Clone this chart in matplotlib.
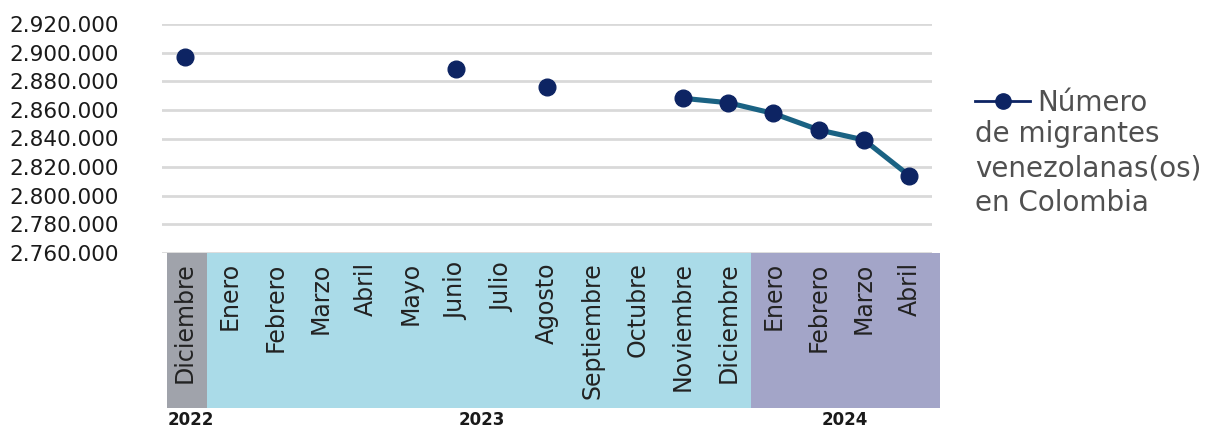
import numpy as np
import matplotlib
matplotlib.use("Agg")
import matplotlib.pyplot as plt
from matplotlib.lines import Line2D
from matplotlib.ticker import FuncFormatter

plt.rcParams['font.family'] = ['DejaVu Sans']

meses = ["Diciembre", "Enero", "Febrero", "Marzo", "Abril", "Mayo", "Junio", "Julio",
         "Agosto", "Septiembre", "Octubre", "Noviembre", "Diciembre",
         "Enero", "Febrero", "Marzo", "Abril"]
anios = ["2022", "2023", "2024"]
# meses por año en el eje
n_por_anio = [1, 12, 4]
# sin dato -> nan
migrantes = [2897000, np.nan, np.nan, np.nan, np.nan, np.nan, 2888800, np.nan,
             2875700, np.nan, np.nan, 2868100, 2865000,
             2857500, 2846000, 2839000, 2814000]
serie = ["Número", "de migrantes\nvenezolanas(os)\nen Colombia"]

W, H = 1211, 429
fig = plt.figure(figsize=(W / 100, H / 100), dpi=100)

x = np.arange(len(meses))
ax = fig.add_axes([162 / W, 1 - 253 / H, (932 - 162) / W, (253 - 24) / H])
ax.plot(x, migrantes, color="#1a6283", lw=3.7, marker="o", ms=12,
        mfc="#0d2463", mec="#0d2463", zorder=3)
ax.set_xlim(-0.5, len(meses) - 0.5)
ax.set_ylim(2760000, 2920000)
ax.set_yticks(np.arange(2760000, 2920001, 20000))
ax.yaxis.set_major_formatter(FuncFormatter(lambda v, p: f"{int(v):,}".replace(",", ".")))
ax.tick_params(axis="y", length=0, pad=31, labelsize=15.5, labelcolor="#1a1a1a")
ax.set_xticks([])
ax.grid(axis="y", color="#d9d9d9", lw=2)
ax.set_axisbelow(True)
for s in ax.spines.values():
    s.set_visible(False)

# leyenda dibujada a mano
fig.add_artist(Line2D([975 / W, 1030 / W], [1 - 101 / H] * 2, color="#0d2463", lw=2,
                      transform=fig.transFigure))
fig.add_artist(Line2D([1003 / W], [1 - 101 / H], color="#0d2463", marker="o", ms=11,
                      transform=fig.transFigure))
fig.text(1037 / W, 1 - 103 / H, serie[0], fontsize=20, color="#505050", va="center")
fig.text(975 / W, 1 - 120 / H, serie[1], fontsize=20, color="#505050", va="top",
         linespacing=1.3)

# bandas de meses
bx = fig.add_axes([162 / W, 1 - 408 / H, (932 - 162) / W, (408 - 253) / H], sharex=ax)
colores = ["#a0a3ab", "#aadbe8", "#a3a5c8"]
ini = -0.4
bordes = np.cumsum([0] + n_por_anio) - 0.5
for i, c in enumerate(colores):
    a = max(bordes[i], ini)
    b = bordes[i + 1] if i < 2 else bordes[i + 1] + 0.18
    bx.axvspan(a, b, color=c, lw=0, clip_on=False)
for xi, m in zip(x, meses):
    bx.text(xi, 0.94, m, rotation=90, ha="center", va="top", fontsize=17,
            color="#222222", transform=bx.get_xaxis_transform())
bx.set_ylim(0, 1)
bx.axis("off")

# años
centros = [0.13, 6.56, 14.58]
for c, a in zip(centros, anios):
    bx.text(c, -0.08, a, ha="center", va="center", fontsize=12, fontweight="bold",
            color="#1a1a1a", transform=bx.get_xaxis_transform())

fig.savefig("out.png", dpi=100)
